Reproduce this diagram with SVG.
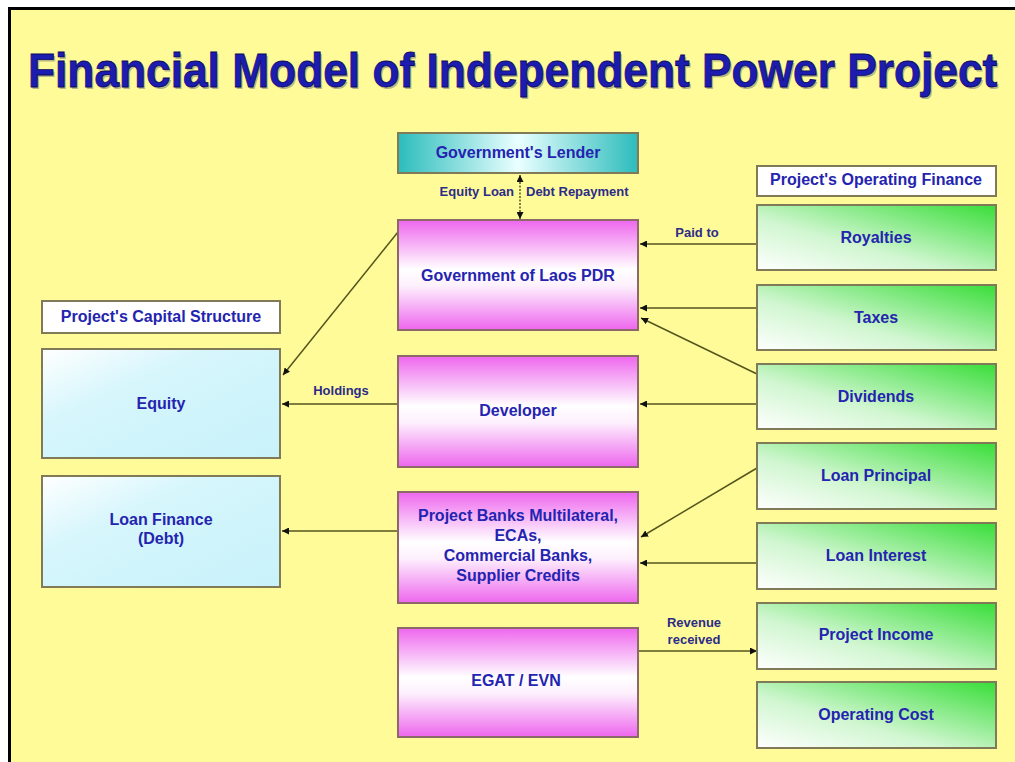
<svg xmlns="http://www.w3.org/2000/svg" width="1015" height="762" viewBox="0 0 1015 762">
  <defs>
    <linearGradient id="gPink" x1="0" y1="0" x2="0" y2="1">
      <stop offset="0" stop-color="#ee66ee"/>
      <stop offset="0.45" stop-color="#ffffff"/>
      <stop offset="0.6" stop-color="#fdf0fd"/>
      <stop offset="1" stop-color="#ee66ee"/>
    </linearGradient>
    <linearGradient id="gGreen" x1="0" y1="1" x2="1" y2="0">
      <stop offset="0" stop-color="#ffffff"/>
      <stop offset="0.4" stop-color="#d0f6d0"/>
      <stop offset="1" stop-color="#38de38"/>
    </linearGradient>
    <linearGradient id="gTeal" x1="0" y1="0" x2="1" y2="0">
      <stop offset="0" stop-color="#2cbcbc"/>
      <stop offset="0.5" stop-color="#eaffff"/>
      <stop offset="1" stop-color="#2cbcbc"/>
    </linearGradient>
    <linearGradient id="gCyan" x1="0" y1="0" x2="1" y2="1">
      <stop offset="0" stop-color="#ffffff"/>
      <stop offset="0.35" stop-color="#d6f6fc"/>
      <stop offset="1" stop-color="#c8f2fa"/>
    </linearGradient>
    <marker id="arr" viewBox="0 0 8 8" refX="8" refY="4" markerWidth="7" markerHeight="7" markerUnits="userSpaceOnUse" orient="auto-start-reverse">
      <path d="M0,0 L8,4 L0,8 Z" fill="#111"/>
    </marker>
    <style>
      .box { stroke: #807a58; stroke-width: 2; }
      .pink { fill: url(#gPink); stroke: #8c6868; stroke-width: 2; }
      .green { fill: url(#gGreen); }
      .cyan { fill: url(#gCyan); }
      .plain { fill: #ffffff; }
      .lbl { font-family: "Liberation Sans", Arial, sans-serif; font-weight: bold; font-size: 16px; fill: #2424b0; text-anchor: middle; }
      .edge { font-family: "Liberation Sans", Arial, sans-serif; font-weight: bold; font-size: 13px; fill: #2c2c88; }
      .conn { stroke: #55551e; stroke-width: 1.5; fill: none; marker-end: url(#arr); }
    </style>
  </defs>

  <!-- page -->
  <rect x="0" y="0" width="1015" height="762" fill="#ffffff"/>
  <rect x="8" y="7" width="1007" height="755" fill="#fffb98"/>
  <path d="M9.5,762 V8.5 H1015" fill="none" stroke="#000" stroke-width="3"/>

  <!-- title, condensed horizontally -->
  <g id="title" font-family="Liberation Sans, Arial, sans-serif" font-weight="bold" font-size="49">
    <text transform="translate(29.5,88.5) scale(0.904,1)" x="0" y="0" fill="#9a9a80" opacity="0.7">Financial Model of Independent Power Project</text>
    <text transform="translate(28,87) scale(0.904,1)" x="0" y="0" fill="#1c1cb0" stroke="#0a0a60" stroke-width="0.8">Financial Model of Independent Power Project</text>
  </g>

  <!-- connectors -->
  <g id="connectors">
    <path class="conn" d="M398,232 L283,375"/>
    <path class="conn" d="M398,404 L282,404"/>
    <path class="conn" d="M398,531 L282,531"/>
    <path class="conn" d="M757,244 L640,244"/>
    <path class="conn" d="M757,308 L640,308"/>
    <path class="conn" d="M757,374 L641,318"/>
    <path class="conn" d="M757,404 L640,404"/>
    <path class="conn" d="M757,468 L641,537"/>
    <path class="conn" d="M757,563 L640,563"/>
    <path class="conn" d="M638,651 L757,651"/>
    <path class="conn" d="M520,175 L520,219" stroke-dasharray="2 1.5" marker-start="url(#arr)"/>
    <text class="edge" x="514" y="196" text-anchor="end">Equity Loan</text>
    <text class="edge" x="526" y="196">Debt Repayment</text>
    <text class="edge" x="697" y="237" text-anchor="middle">Paid to</text>
    <text class="edge" x="341" y="395" text-anchor="middle">Holdings</text>
    <text class="edge" x="694" y="627" text-anchor="middle" font-size="12" fill="#3c3c78">Revenue</text>
    <text class="edge" x="694" y="644" text-anchor="middle" font-size="12" fill="#3c3c78">received</text>
  </g>

  <!-- centre column -->
  <g id="gov-lender">
    <rect class="box" x="398" y="133" width="240" height="40" fill="url(#gTeal)"/>
    <text class="lbl" x="518" y="158">Government's Lender</text>
  </g>
  <g id="gov-laos">
    <rect class="pink" x="398" y="220" width="240" height="110"/>
    <text class="lbl" x="518" y="281">Government of Laos PDR</text>
  </g>
  <g id="developer">
    <rect class="pink" x="398" y="356" width="240" height="111"/>
    <text class="lbl" x="518" y="416">Developer</text>
  </g>
  <g id="project-banks">
    <rect class="pink" x="398" y="492" width="240" height="111"/>
    <text class="lbl" x="518" y="521">Project Banks Multilateral,</text>
    <text class="lbl" x="518" y="541">ECAs,</text>
    <text class="lbl" x="518" y="561">Commercial Banks,</text>
    <text class="lbl" x="518" y="581">Supplier Credits</text>
  </g>
  <g id="egat-evn">
    <rect class="pink" x="398" y="628" width="240" height="109"/>
    <text class="lbl" x="516" y="686">EGAT / EVN</text>
  </g>

  <!-- left column -->
  <g id="capital-structure">
    <rect class="box plain" x="42" y="301" width="238" height="32"/>
    <text class="lbl" x="161" y="322">Project's Capital Structure</text>
  </g>
  <g id="equity">
    <rect class="box cyan" x="42" y="349" width="238" height="109"/>
    <text class="lbl" x="161" y="409">Equity</text>
  </g>
  <g id="loan-finance">
    <rect class="box cyan" x="42" y="476" width="238" height="111"/>
    <text class="lbl" x="161" y="525">Loan Finance</text>
    <text class="lbl" x="161" y="544">(Debt)</text>
  </g>

  <!-- right column -->
  <g id="operating-finance">
    <rect class="box plain" x="757" y="166" width="239" height="30"/>
    <text class="lbl" x="876" y="185">Project's Operating Finance</text>
  </g>
  <g id="royalties">
    <rect class="box green" x="757" y="205" width="239" height="65"/>
    <text class="lbl" x="876" y="243">Royalties</text>
  </g>
  <g id="taxes">
    <rect class="box green" x="757" y="285" width="239" height="65"/>
    <text class="lbl" x="876" y="323">Taxes</text>
  </g>
  <g id="dividends">
    <rect class="box green" x="757" y="364" width="239" height="65"/>
    <text class="lbl" x="876" y="402">Dividends</text>
  </g>
  <g id="loan-principal">
    <rect class="box green" x="757" y="443" width="239" height="66"/>
    <text class="lbl" x="876" y="481">Loan Principal</text>
  </g>
  <g id="loan-interest">
    <rect class="box green" x="757" y="523" width="239" height="66"/>
    <text class="lbl" x="876" y="561">Loan Interest</text>
  </g>
  <g id="project-income">
    <rect class="box green" x="757" y="603" width="239" height="66"/>
    <text class="lbl" x="876" y="640">Project Income</text>
  </g>
  <g id="operating-cost">
    <rect class="box green" x="757" y="682" width="239" height="66"/>
    <text class="lbl" x="876" y="720">Operating Cost</text>
  </g>
</svg>
